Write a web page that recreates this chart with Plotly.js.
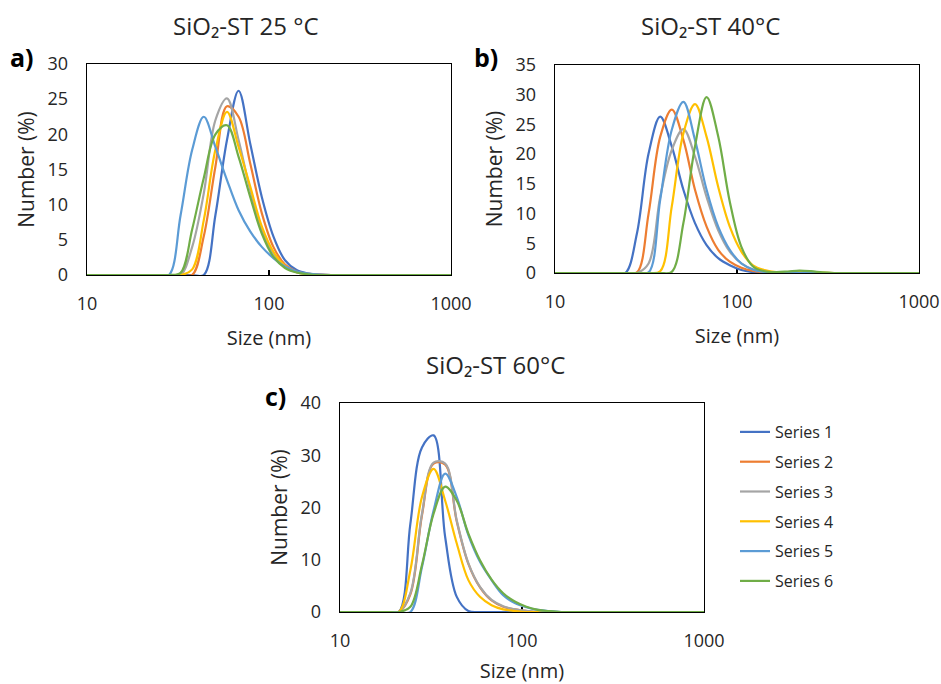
<!DOCTYPE html>
<html>
<head>
<meta charset="utf-8">
<script src="https://cdn.plot.ly/plotly-3.0.1.min.js"></script>
<style>
html,body{margin:0;padding:0;background:#fff;}
#chart{width:941px;height:684px;}
</style>
</head>
<body>
<div id="chart"></div>
<script>
// Particle size bins (nm) shared by all measurements
const sizes = [8.721,10.10,11.70,13.54,15.69,18.17,21.04,24.36,28.21,32.67,37.84,43.82,50.75,58.77,68.06,78.82,91.28,105.7,122.4,141.8,164.2,190.1,220.2,255.0,295.3,342.0,396.1,458.7,531.2,615.1,712.4,825.0,955.4,1106];

const seriesNames = ['Series 1','Series 2','Series 3','Series 4','Series 5','Series 6'];
const seriesColors = ['#4472C4','#ED7D31','#A5A5A5','#FFC000','#5B9BD5','#70AD47'];

const panelTitles = ['SiO₂-ST 25 °C','SiO₂-ST 40°C','SiO₂-ST 60°C'];
const panelLetters = ['a)','b)','c)'];
const xTickVals = [10,100,1000];
const xTickText = ['10','100','1000'];

// a) 25 °C  – Number (%)
const t25_s1 = [0,0,0,0,0,0,0,0,0,0,0,0,8.5,19.2,26.2,18.7,11.1,5.5,2.1,0.7,0.2,0.05,0,0,0,0,0,0,0,0,0,0,0,0];
const t25_s2 = [0,0,0,0,0,0,0,0,0,0,0,5.5,15.4,24.0,22.5,15.9,8.8,4.0,1.5,0.5,0.15,0.05,0,0,0,0,0,0,0,0,0,0,0,0];
const t25_s3 = [0,0,0,0,0,0,0,0,0,0,4.0,11.6,22.0,25.1,19.2,12.1,6.4,3.1,1.2,0.4,0.1,0,0,0,0,0,0,0,0,0,0,0,0,0];
const t25_s4 = [0,0,0,0,0,0,0,0,0,0,0.8,7.8,17.8,23.2,18.2,12.6,6.9,3.3,1.3,0.4,0.1,0,0,0,0,0,0,0,0,0,0,0,0,0];
const t25_s5 = [0,0,0,0,0,0,0,0,0,8.5,17.8,22.5,18.2,13.5,9.2,6.2,4.0,2.4,1.2,0.5,0.2,0.05,0,0,0,0,0,0,0,0,0,0,0,0];
const t25_s6 = [0,0,0,0,0,0,0,0,0,0.3,6.5,13.8,20.0,21.3,16.8,11.1,5.9,2.6,1.0,0.35,0.1,0,0,0,0,0,0,0,0,0,0,0,0,0];

// b) 40 °C
const t40_s1 = [0,0,0,0,0,0,0,0,6.7,20.1,26.3,21.3,14.0,8.4,4.7,2.5,1.3,0.5,0.15,0.05,0,0,0,0,0,0,0,0,0,0,0,0,0,0];
const t40_s2 = [0,0,0,0,0,0,0,0,0.1,10.0,22.9,27.5,22.4,14.0,7.8,3.9,1.9,0.9,0.35,0.1,0,0,0,0,0,0,0,0,0,0,0,0,0,0];
const t40_s3 = [0,0,0,0,0,0,0,0,0,1.6,12.8,20.7,24.2,19.6,12.8,7.2,3.6,1.6,0.6,0.2,0,0,0,0,0,0,0,0,0,0,0,0,0,0];
const t40_s4 = [0,0,0,0,0,0,0,0,0,0,0.3,11.2,23.5,28.4,22.9,14.5,7.8,3.6,1.3,0.5,0.15,0.15,0.25,0.15,0.05,0,0,0,0,0,0,0,0,0];
const t40_s5 = [0,0,0,0,0,0,0,0,0,0.1,12.3,24.1,28.8,22.4,14.0,7.8,3.9,1.6,0.6,0.2,0,0,0,0,0,0,0,0,0,0,0,0,0,0];
const t40_s6 = [0,0,0,0,0,0,0,0,0,0,0,0.2,8.4,21.3,29.6,23.0,12.0,4.4,1.1,0.3,0.15,0.25,0.4,0.3,0.1,0,0,0,0,0,0,0,0,0];

// c) 60 °C
const t60_s1 = [0,0,0,0,0,0,0,16.9,31.5,33.8,14.3,2.9,0.2,0,0,0,0,0,0,0,0,0,0,0,0,0,0,0,0,0,0,0,0,0];
const t60_s2 = [0,0,0,0,0,0,0,3.4,18.5,28.4,28.2,17.3,9.2,4.7,2.2,1.0,0.5,0.2,0,0,0,0,0,0,0,0,0,0,0,0,0,0,0,0];
const t60_s3 = [0,0,0,0,0,0,0,3.6,18.8,28.6,28.4,17.5,9.3,4.8,2.3,1.1,0.5,0.2,0.05,0,0,0,0,0,0,0,0,0,0,0,0,0,0,0];
const t60_s4 = [0,0,0,0,0,0,0,8.0,22.0,27.4,21.3,13.1,6.1,2.9,1.3,0.5,0.2,0,0,0,0,0,0,0,0,0,0,0,0,0,0,0,0,0];
const t60_s5 = [0,0,0,0,0,0,0,0,8.6,19.4,26.5,22.0,14.7,9.6,6.1,3.2,1.7,0.9,0.4,0.15,0,0,0,0,0,0,0,0,0,0,0,0,0,0];
const t60_s6 = [0,0,0,0,0,0,0,1.0,9.0,18.8,24.0,21.3,15.0,9.9,6.2,3.6,2.0,1.0,0.4,0.15,0,0,0,0,0,0,0,0,0,0,0,0,0,0];

const panelData = [
  [t25_s1,t25_s2,t25_s3,t25_s4,t25_s5,t25_s6],
  [t40_s1,t40_s2,t40_s3,t40_s4,t40_s5,t40_s6],
  [t60_s1,t60_s2,t60_s3,t60_s4,t60_s5,t60_s6]
];
const yMax = [30,35,40];
const yDtick = [5,5,10];

// ---------- layout geometry (pixels in a 941x684 page) ----------
const W = 941, H = 684;
const boxes = [
  {l:87, r:451, t:64, b:275},
  {l:555, r:919, t:65, b:273},
  {l:340, r:704, t:403, b:612}
];
const titlePos = [{x:246,y:25},{x:710,y:25},{x:495,y:364}];
const letterPos = [{x:22,y:57},{x:486,y:57},{x:275,y:396}];

const FONT = 'Open Sans, Liberation Sans, sans-serif';
const TXT = '#262626';

const traces = [];
const layout = {
  width: W, height: H,
  margin: {l:0,r:0,t:0,b:0},
  paper_bgcolor:'#fff', plot_bgcolor:'#fff',
  font: {family: FONT, color: TXT, size: 18},
  showlegend: true,
  legend: {x: 735/W, y: 1-415/H, xanchor:'left', yanchor:'top',
           font:{size:16, color:TXT}, tracegroupgap: 6, bgcolor:'rgba(0,0,0,0)',
           traceorder:'grouped'},
  annotations: [],
  shapes: []
};

panelData.forEach((series, p) => {
  const xa = p===0 ? 'x' : 'x'+(p+1);
  const ya = p===0 ? 'y' : 'y'+(p+1);
  const xk = p===0 ? 'xaxis' : 'xaxis'+(p+1);
  const yk = p===0 ? 'yaxis' : 'yaxis'+(p+1);
  const bx = boxes[p];
  series.forEach((vals, i) => {
    traces.push({
      type:'scatter', mode:'lines', x: sizes, y: vals,
      xaxis: xa, yaxis: ya,
      name: seriesNames[i], legendgroup: 'g'+i,
      showlegend: p===2,
      line: {color: seriesColors[i], width: 2.2, shape:'spline', smoothing: 1},
      hoverinfo:'skip'
    });
  });
  layout[xk] = {
    domain: [bx.l/W, bx.r/W], anchor: ya, type:'log', range:[1,3],
    tickmode:'array', tickvals: xTickVals, ticktext: xTickText,
    ticks:'inside', ticklen:5, tickwidth:1.3, tickcolor:'#000',
    showline:true, mirror:true, linecolor:'#000', linewidth:1.3,
    showgrid:false, zeroline:false, layer:'below traces',
    ticklabelstandoff: 12,
    tickfont:{size:18, color:TXT},
    title:{text:'Size (nm)', font:{size:20, color:TXT}, standoff: 17},
    fixedrange:true
  };
  layout[yk] = {
    domain: [1-bx.b/H, 1-bx.t/H], anchor: xa, range:[0, yMax[p]],
    tickmode:'linear', tick0:0, dtick: yDtick[p], ticks:'',
    showline:true, mirror:true, linecolor:'#000', linewidth:1.3,
    showgrid:false, zeroline:false, layer:'below traces',
    ticklabelstandoff: 14,
    tickfont:{size:18, color:TXT},
    title:{text:'Number (%)', font:{size:21, color:TXT}, standoff: 7},
    fixedrange:true
  };
  layout.annotations.push({
    xref:'paper', yref:'paper', x: titlePos[p].x/W, y: 1-titlePos[p].y/H,
    xanchor:'center', yanchor:'middle', showarrow:false,
    text: panelTitles[p], font:{size:24, color:TXT}
  });
  layout.annotations.push({
    xref:'paper', yref:'paper', x: letterPos[p].x/W, y: 1-letterPos[p].y/H,
    xanchor:'center', yanchor:'middle', showarrow:false,
    text: panelLetters[p], font:{size:25, color:'#000', weight:'bold'}
  });
});

Plotly.newPlot('chart', traces, layout, {displayModeBar:false, staticPlot:true});
</script>
</body>
</html>
